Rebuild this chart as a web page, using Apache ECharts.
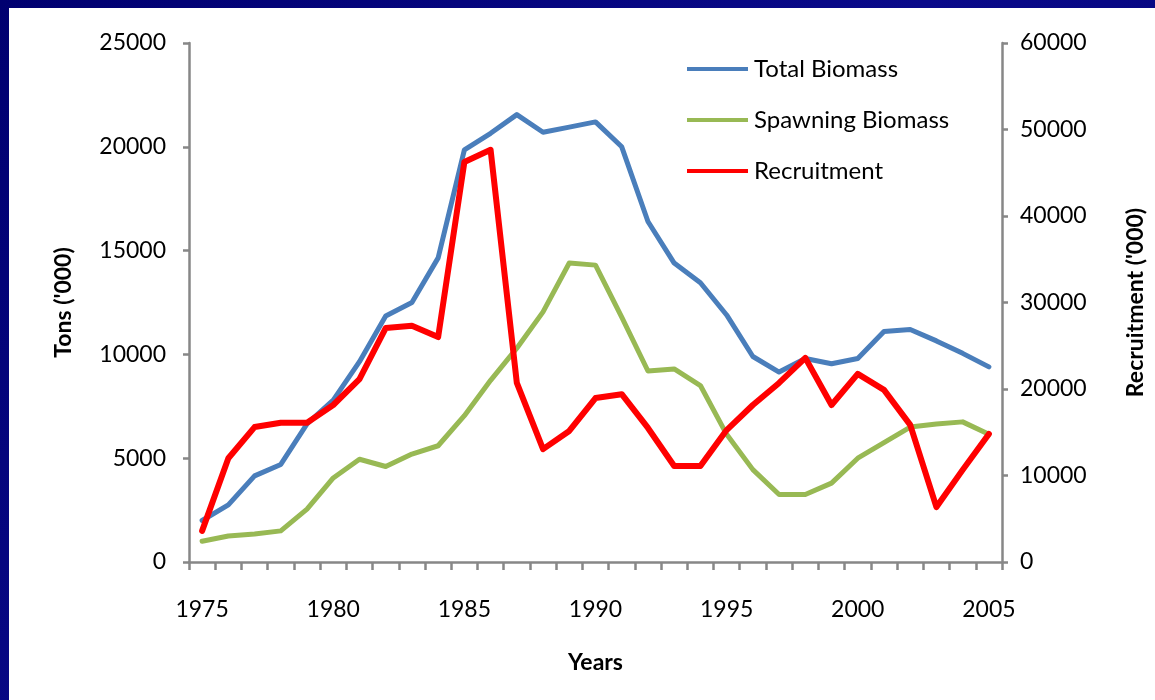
<!DOCTYPE html>
<html>
<head>
<meta charset="utf-8">
<script src="https://cdn.jsdelivr.net/npm/echarts@6/dist/echarts.min.js"></script>
<style>
html,body{margin:0;padding:0;width:1155px;height:700px;overflow:hidden;background:#00007a;}
#frame{position:absolute;left:0;top:0;width:1155px;height:700px;background:linear-gradient(135deg,#000070,#0a0a8a 50%,#000070);}
#chart{position:absolute;left:9px;top:8px;width:1146px;height:692px;background:#fff;}
</style>
</head>
<body>
<div id="frame"></div>
<div id="chart"></div>
<script>
const years = [];
for (let y = 1975; y <= 2005; y++) years.push(String(y));

const totalBiomass = [2000, 2750, 4150, 4700, 6650, 7800, 9650, 11850, 12500, 14650,
  19850, 20650, 21550, 20700, 20950, 21200, 20000, 16400, 14400, 13450,
  11900, 9900, 9150, 9800, 9550, 9800, 11100, 11200, 10650, 10050, 9400];

const spawningBiomass = [1000, 1250, 1350, 1500, 2550, 4050, 4950, 4600, 5200, 5600,
  7050, 8750, 10300, 12050, 14400, 14300, 11800, 9200, 9300, 8500,
  6150, 4450, 3250, 3250, 3800, 5000, 5750, 6500, 6650, 6750, 6150];

const recruitment = [3600, 12000, 15600, 16100, 16100, 18150, 21150, 27050, 27300, 26000,
  46250, 47650, 20700, 13050, 15150, 18950, 19400, 15500, 11100, 11100,
  15250, 18150, 20700, 23600, 18150, 21750, 19900, 15850, 6350, 10650, 14800];

const FONT = 'Lato';
const plain = v => String(v);
const chart = echarts.init(document.getElementById('chart'));
const axisLineStyle = {color: '#878787', width: 2.5};
chart.setOption({
  animation: false,
  backgroundColor: '#ffffff',
  textStyle: {fontFamily: FONT},
  grid: {left: 180, right: 153, top: 35, bottom: 138, containLabel: false, outerBoundsMode: 'none'},
  legend: {
    orient: 'vertical',
    left: 673,
    top: 44,
    icon: 'rect',
    itemWidth: 61,
    itemHeight: 4,
    itemGap: 27,
    textStyle: {fontFamily: FONT, fontSize: 24, color: '#000', padding: [0,0,0,1]},
    data: ['Total Biomass', 'Spawning Biomass', 'Recruitment']
  },
  xAxis: {
    type: 'category',
    data: years,
    boundaryGap: true,
    name: 'Years',
    nameLocation: 'middle',
    nameGap: 89,
    nameTextStyle: {fontFamily: FONT, fontWeight: 'bold', fontSize: 23, color: '#000'},
    axisLine: {lineStyle: axisLineStyle},
    axisTick: {show: true, interval: 0, length: 8, lineStyle: axisLineStyle},
    axisLabel: {interval: 4, fontSize: 23, color: '#000', margin: 36, fontFamily: FONT},
    splitLine: {show: false}
  },
  yAxis: [{
    type: 'value',
    min: 0, max: 25000, interval: 5000,
    name: "Tons ('000)",
    nameLocation: 'middle',
    nameGap: 114,
    nameRotate: 90,
    nameTextStyle: {fontFamily: FONT, fontWeight: 'bold', fontSize: 23, color: '#000'},
    axisLine: {show: true, lineStyle: axisLineStyle},
    axisTick: {show: true, length: 6, lineStyle: axisLineStyle},
    axisLabel: {fontSize: 23, color: '#000', margin: 23, fontFamily: FONT, formatter: plain},
    splitLine: {show: false}
  }, {
    type: 'value',
    min: 0, max: 60000, interval: 10000,
    position: 'right',
    name: "Recruitment ('000)",
    nameLocation: 'middle',
    nameGap: 122,
    nameRotate: 90,
    nameTextStyle: {fontFamily: FONT, fontWeight: 'bold', fontSize: 23, color: '#000'},
    axisLine: {show: true, lineStyle: axisLineStyle},
    axisTick: {show: true, length: 6, lineStyle: axisLineStyle},
    axisLabel: {fontSize: 23, color: '#000', margin: 18, fontFamily: FONT, formatter: plain},
    splitLine: {show: false}
  }],
  series: [{
    name: 'Total Biomass', type: 'line', yAxisIndex: 0, data: totalBiomass,
    symbol: 'none', lineStyle: {color: '#4a7ebb', width: 5, cap: 'round', join: 'round'},
    itemStyle: {color: '#4a7ebb'}
  }, {
    name: 'Spawning Biomass', type: 'line', yAxisIndex: 0, data: spawningBiomass,
    symbol: 'none', lineStyle: {color: '#98b954', width: 5, cap: 'round', join: 'round'},
    itemStyle: {color: '#98b954'}
  }, {
    name: 'Recruitment', type: 'line', yAxisIndex: 1, data: recruitment,
    symbol: 'none', lineStyle: {color: '#ff0000', width: 6, cap: 'round', join: 'round'},
    itemStyle: {color: '#ff0000'}
  }]
});
</script>
</body>
</html>
